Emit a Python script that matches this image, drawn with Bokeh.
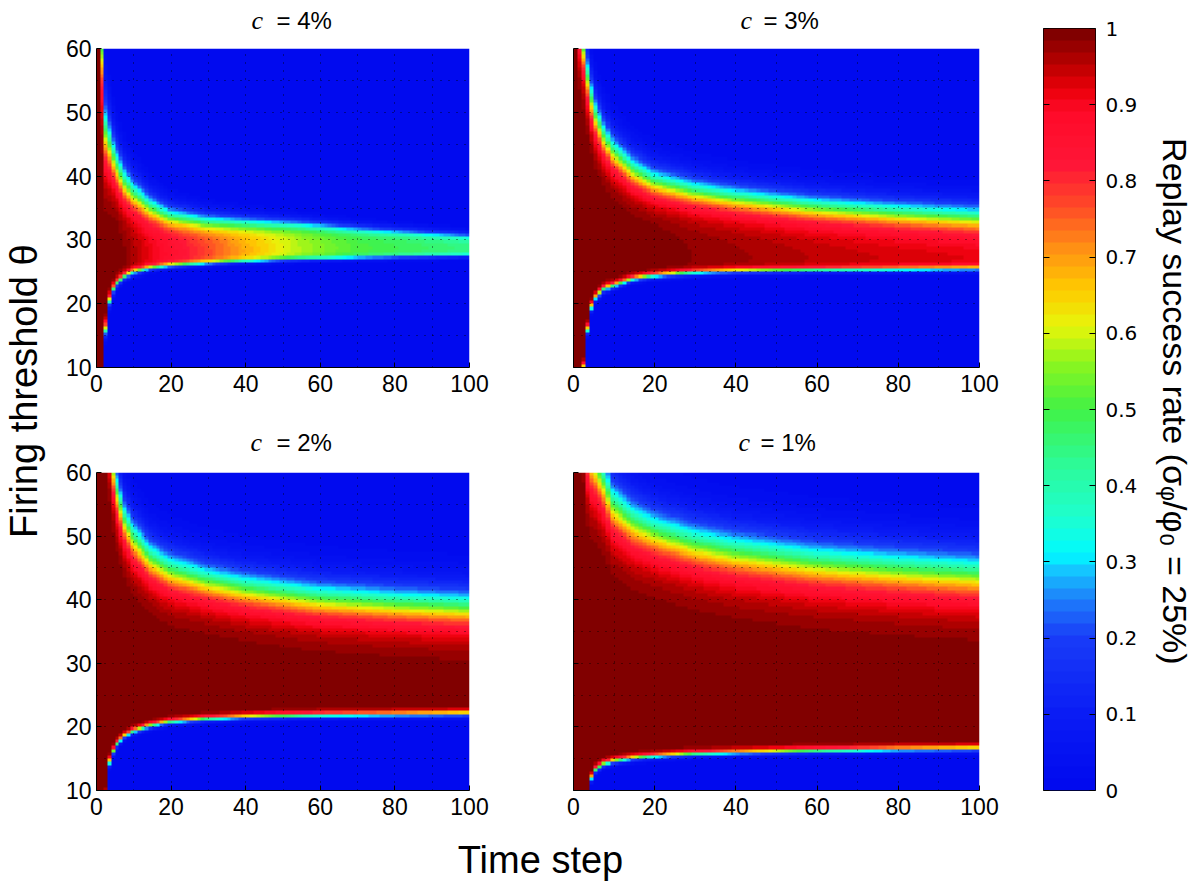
import numpy as np
from bokeh.plotting import figure
from bokeh.models import LinearColorMapper, FixedTicker, Range1d, LinearAxis
from bokeh.layouts import row, column
from bokeh.embed import file_html
from bokeh.resources import INLINE
from bokeh.core.properties import value

# ---------------- data ----------------
time_steps = np.arange(1, 101)              # time step (columns)
theta_rows = np.arange(10.25, 60.0, 0.5)    # firing threshold θ (row centres)

panel_pct = ["4%", "3%", "2%", "1%"]

# c = 4 %: band edges (θ where the rate is half its peak) at sampled time steps
t_c4 = [1, 2, 3, 4, 5, 6, 8, 10, 15, 20, 30, 40, 55, 70, 100]
lower_c4 = [0, 0, 16, 20.5, 22.3, 23.3, 24.3, 24.9, 25.6, 26.0, 26.4, 26.7, 27.0, 27.2, 27.5]
lower_w_c4 = [0.5, 0.5, 0.6, 0.5, 0.4, 0.35, 0.3, 0.3, 0.25, 0.25, 0.22, 0.2, 0.2, 0.2, 0.2]
upper_c4 = [99, 60, 47, 45, 43, 41.5, 39, 37.5, 35.2, 33.8, 33.0, 32.8, 32.5, 31.8, 30.7]
upper_w_c4 = [4, 4, 3, 2.6, 2.3, 2.1, 1.9, 1.7, 1.35, 1.1, 0.9, 0.75, 0.6, 0.5, 0.4]
peak_c4 = [1, 1, 1, 1, 1, 1, 0.99, 0.97, 0.92, 0.87, 0.78, 0.69, 0.58, 0.51, 0.45]

# c = 3 %
t_c3 = [1, 2, 3, 4, 5, 6, 8, 10, 15, 20, 30, 40, 60, 80, 100]
lower_c3 = [0, 0, 10, 16, 19.5, 21, 22.3, 22.8, 23.9, 24.4, 24.9, 25.1, 25.3, 25.4, 25.5]
lower_w_c3 = [0.4, 0.4, 0.4, 0.4, 0.35, 0.3, 0.3, 0.3, 0.25, 0.25, 0.25, 0.25, 0.25, 0.25, 0.25]
upper_c3 = [95, 64, 60, 55.5, 52, 49.5, 46.3, 44.0, 41.0, 39.2, 37.6, 36.6, 35.2, 34.3, 33.6]
upper_w_c3 = [3, 2.5, 2.3, 2.2, 2.1, 2.0, 1.9, 1.8, 1.7, 1.6, 1.5, 1.45, 1.4, 1.4, 1.4]
peak_c3 = [1, 1, 1, 1, 1, 1, 1, 1, 1, 1, 0.985, 0.975, 0.955, 0.94, 0.93]

# c = 2 %
t_c2 = [1, 2, 3, 4, 5, 6, 8, 10, 15, 20, 30, 40, 60, 80, 100]
lower_c2 = [0, 0, 9, 14.5, 16.2, 17.3, 18.6, 19.3, 20.2, 20.8, 21.3, 21.6, 21.9, 22.0, 22.1]
lower_w_c2 = [0.4, 0.4, 0.4, 0.35, 0.3, 0.3, 0.25, 0.25, 0.25, 0.25, 0.25, 0.25, 0.25, 0.25, 0.25]
upper_c2 = [99, 85, 72, 66, 60.5, 57, 52.5, 50, 46.5, 44.7, 43.0, 41.8, 40.2, 39.4, 38.8]
upper_w_c2 = [3, 2.8, 2.6, 2.5, 2.4, 2.3, 2.2, 2.2, 2.1, 2.1, 2.0, 2.0, 2.0, 2.0, 2.0]
peak_c2 = [1, 1, 1, 1, 1, 1, 1, 1, 1, 1, 1, 1, 1, 1, 1]

# c = 1 %
t_c1 = [1, 2, 3, 4, 5, 6, 8, 10, 15, 20, 30, 40, 60, 80, 100]
lower_c1 = [0, 0, 0, 8, 12, 13.3, 14.2, 14.6, 15.1, 15.4, 15.8, 16.0, 16.3, 16.5, 16.6]
lower_w_c1 = [0.4, 0.4, 0.4, 0.35, 0.3, 0.3, 0.25, 0.25, 0.25, 0.25, 0.25, 0.25, 0.25, 0.25, 0.25]
upper_c1 = [99, 85, 72, 64, 62, 61, 58.5, 55, 52.3, 50.8, 48.8, 47.5, 45.8, 44.8, 44.0]
upper_w_c1 = [3.5, 3.3, 3.2, 3.0, 3.0, 2.9, 2.8, 2.7, 2.6, 2.5, 2.5, 2.5, 2.5, 2.5, 2.5]
peak_c1 = [1, 1, 1, 1, 1, 1, 1, 1, 1, 1, 1, 1, 1, 1, 1]

x_ticks = [0, 20, 40, 60, 80, 100]
y_ticks = [10, 20, 30, 40, 50, 60]
cbar_ticks = [0, 0.1, 0.2, 0.3, 0.4, 0.5, 0.6, 0.7, 0.8, 0.9, 1]
cbar_labels = ["0", "0.1", "0.2", "0.3", "0.4", "0.5", "0.6", "0.7", "0.8", "0.9", "1"]

# ---------------- colour map (64 steps, as in the reference bar) ----------------
anchors = [
    (0.00, (0, 8, 238)), (0.10, (10, 28, 245)), (0.20, (25, 60, 248)),
    (0.25, (30, 125, 250)), (0.29, (20, 200, 255)), (0.31, (0, 250, 255)),
    (0.36, (30, 255, 205)), (0.43, (45, 250, 150)), (0.50, (65, 242, 70)),
    (0.56, (140, 245, 30)), (0.61, (232, 245, 10)), (0.66, (255, 200, 0)),
    (0.71, (255, 145, 20)), (0.77, (255, 70, 40)), (0.82, (255, 22, 55)),
    (0.89, (255, 10, 40)), (0.92, (235, 0, 10)), (0.95, (190, 0, 0)), (1.00, (118, 0, 0)),
]
def _col(v):
    for (a, ca), (b, cb) in zip(anchors[:-1], anchors[1:]):
        if a <= v <= b:
            f = (v - a) / (b - a)
            return "#%02x%02x%02x" % tuple(int(round(ca[k] + f * (cb[k] - ca[k]))) for k in range(3))
    return "#%02x%02x%02x" % anchors[-1][1]
palette = [_col((i + 0.5) / 64) for i in range(64)]
mapper = LinearColorMapper(palette=palette, low=0, high=1)

def make_field(ts, lo, lw, hi, hw, pk):
    LO = np.interp(time_steps, ts, lo)
    LW = np.interp(time_steps, ts, lw)
    HI = np.interp(time_steps, ts, hi)
    HW = np.interp(time_steps, ts, hw)
    PK = np.interp(time_steps, ts, pk)
    th = theta_rows[:, None]
    L = np.where(LO[None, :] <= 0, 1.0, 1.0 / (1.0 + np.exp(-(th - LO[None, :]) / LW[None, :])))
    U = 1.0 / (1.0 + np.exp((th - HI[None, :]) / HW[None, :]))
    return PK[None, :] * L * U

fields = [
    make_field(t_c4, lower_c4, lower_w_c4, upper_c4, upper_w_c4, peak_c4),
    make_field(t_c3, lower_c3, lower_w_c3, upper_c3, upper_w_c3, peak_c3),
    make_field(t_c2, lower_c2, lower_w_c2, upper_c2, upper_w_c2, peak_c2),
    make_field(t_c1, lower_c1, lower_w_c1, upper_c1, upper_w_c1, peak_c1),
]

SANS = "Liberation Sans"

def make_panel(field, width, height, bl, br, bt, bb, ylabels):
    p = figure(width=width, height=height, x_range=Range1d(0, 100), y_range=Range1d(10, 60),
               min_border_left=bl, min_border_right=br, min_border_top=bt, min_border_bottom=bb,
               toolbar_location=None, output_backend="svg", title=None)
    p.image(image=[field], x=0, y=10, dw=100, dh=50, color_mapper=mapper)
    p.outline_line_color = None
    p.xgrid.ticker = FixedTicker(ticks=[10, 20, 30, 40, 50, 60, 70, 80, 90, 100])
    p.ygrid.ticker = FixedTicker(ticks=[15, 20, 25, 30, 35, 40, 45, 50, 55, 60])
    p.grid.grid_line_color = "black"
    p.grid.grid_line_dash = "1 7"
    p.grid.grid_line_alpha = 0.8
    p.grid.level = "overlay"
    p.xaxis.ticker = FixedTicker(ticks=x_ticks)
    p.yaxis.ticker = FixedTicker(ticks=y_ticks)
    p.axis.major_tick_in = 5
    p.axis.major_tick_out = 0
    p.axis.minor_tick_line_color = None
    p.axis.axis_line_color = "black"
    p.axis.major_label_text_font = SANS
    p.axis.major_label_text_font_size = "23px"
    p.axis.major_label_text_color = "black"
    p.xaxis.major_label_standoff = 7
    p.yaxis.major_label_standoff = 5
    if not ylabels:
        p.yaxis.major_label_text_color = None
    return p

def blank(w, h):
    f = figure(width=w, height=h, x_range=Range1d(0, w), y_range=Range1d(0, h),
               min_border=0, toolbar_location=None, output_backend="svg", title=None)
    f.xaxis.visible = False
    f.yaxis.visible = False
    f.grid.visible = False
    f.outline_line_color = None
    return f

def title_strip(h, mid_y, c_x, eq_x, pcts):
    s = blank(956, h)
    s.text(x=c_x, y=[mid_y] * len(c_x), text=["c"] * len(c_x), text_font=value("Liberation Serif"),
           text_font_style="italic", text_font_size="26px", text_align="left",
           text_baseline="middle", text_color="black")
    s.text(x=eq_x, y=[mid_y] * len(eq_x), text=["= " + q for q in pcts], text_font=value(SANS),
           text_font_size="24px", text_align="left", text_baseline="middle", text_color="black")
    return s

# row 1 titles: strip page y 0..34 ; row 2 titles: strip page y 422..458
S1 = title_strip(34, 34 - 20, [197, 686], [222, 709], panel_pct[:2])
S2 = title_strip(36, 458 - 442, [196, 684], [222, 706], panel_pct[2:])

A = make_panel(fields[0], 486, 388, 42, 71, 14, 55, True)
B = make_panel(fields[1], 470, 388, 33, 31, 14, 55, False)
C = make_panel(fields[2], 486, 372, 42, 71, 14, 40, True)
D = make_panel(fields[3], 470, 372, 33, 31, 14, 40, False)

Lfig = blank(54, 891)
Lfig.text(x=[23], y=[891 - 424], text=["Firing threshold θ"], angle=np.pi / 2,
          text_font=value(SANS), text_font_size="38px", text_align="center",
          text_baseline="middle", text_color="black")

T = blank(956, 61)
T.text(x=[486], y=[61 - 29], text=["Time step"], text_font=value(SANS), text_font_size="38px",
       text_align="center", text_baseline="middle", text_color="black")

# colour bar
R = figure(width=140, height=891, x_range=Range1d(0, 1), y_range=Range1d(0, 1),
           min_border_left=33, min_border_right=55, min_border_top=28, min_border_bottom=101,
           toolbar_location=None, output_backend="svg", y_axis_location="right", title=None)
levels = ((np.arange(64) + 0.5) / 64).reshape(64, 1)
R.image(image=[levels], x=0, y=0, dw=1, dh=1, color_mapper=mapper)
R.xaxis.visible = False
R.grid.visible = False
R.outline_line_color = "black"
R.yaxis.ticker = FixedTicker(ticks=cbar_ticks)
R.yaxis.major_label_overrides = {t: s for t, s in zip(cbar_ticks, cbar_labels)}
R.yaxis.major_tick_in = 6
R.yaxis.major_tick_out = 0
R.yaxis.minor_tick_line_color = None
R.yaxis.axis_line_color = None
R.yaxis.major_label_text_font = "DejaVu Sans"
R.yaxis.major_label_text_font_size = "20px"
R.yaxis.major_label_text_color = "black"
R.yaxis.major_label_standoff = 10
left_ax = LinearAxis(ticker=FixedTicker(ticks=cbar_ticks), major_tick_in=6, major_tick_out=0,
                     minor_tick_line_color=None, axis_line_color=None,
                     major_label_text_color=None)
R.add_layout(left_ax, "left")

LB = blank(48, 891)
LB.text(x=[24], y=[891 - 436], text=["Replay success rate (σᵩ/φ₀ = 25%)"], angle=-np.pi / 2,
        text_font=value(SANS), text_font_size="34px", text_align="center",
        text_baseline="middle", text_color="black")

layout = row(Lfig, column(S1, row(A, B), S2, row(C, D), T), R, LB)
open("out.html", "w").write(file_html(layout, INLINE))
